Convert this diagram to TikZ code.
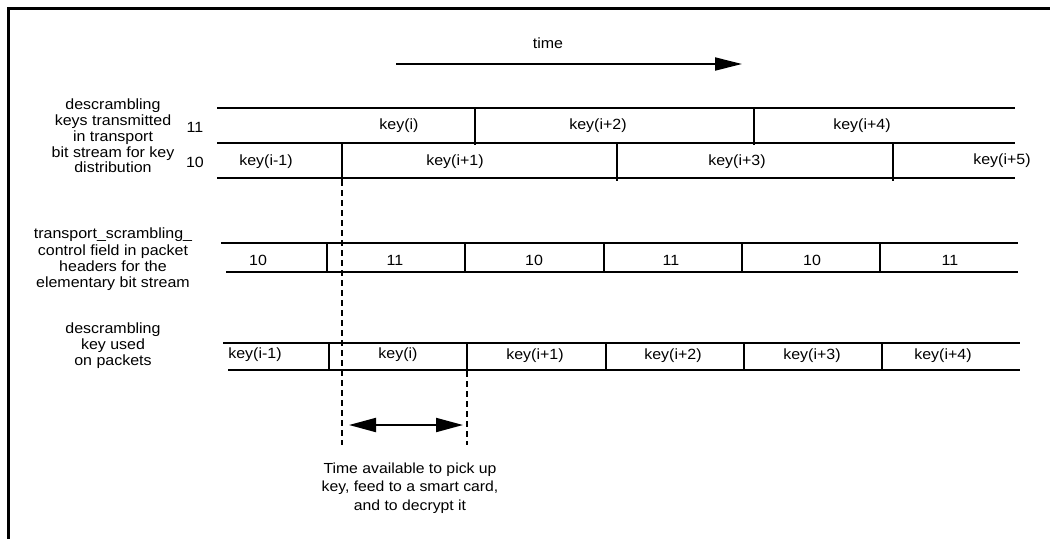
\documentclass[tikz,border=0pt]{standalone}
\usepackage{fontspec}
\setmainfont{Liberation Sans}[FakeStretch=1.08]
\usetikzlibrary{arrows.meta}
\begin{document}
\begin{tikzpicture}[x=1pt,y=-1pt,
  lbl/.style={font=\fontsize{14.8}{15.75}\selectfont, inner sep=0pt},
  side/.style={lbl, align=center},
  note/.style={font=\fontsize{14.6}{18.3}\selectfont, inner sep=0pt, align=center},
  rowline/.style={line width=2.1pt},
  frameline/.style={line width=3pt},
  guide/.style={line width=2.1pt, dash pattern=on 6pt off 4pt},
  timearrow/.style={line width=1.9pt, -{Triangle[length=27pt,width=13pt]}},
  spanarrow/.style={line width=2pt, {Triangle[length=27pt,width=14pt]}-{Triangle[length=27pt,width=14pt]}},
]
\useasboundingbox (0,0) rectangle (1050,539);
% frame
\draw[frameline] (1050,8) -- (8,8) -- (8,539);

% time arrow
\node[lbl] (time) at (548,43) {time};
\coordinate (tA) at (396,64);
\coordinate (tB) at (742,64);
\draw[timearrow] (tA) -- (tB);

% side labels
\node[side] (lab1) at (113,136) {descrambling\\keys transmitted\\in transport\\bit stream for key\\distribution};
\node[lbl] (n11) at (195,127) {11};
\node[lbl] (n10) at (195,162) {10};
\node[side, font=\fontsize{14.8}{16.3}\selectfont] (lab2) at (113,259.5) {transport\_scrambling\_\\control field in packet\\headers for the\\elementary bit stream};
\node[side, font=\fontsize{14.8}{16}\selectfont] (lab3) at (113,346) {descrambling\\key used\\on packets};

% key distribution rows
\draw[rowline] (217,108) -- (1015,108);
\draw[rowline] (217,143) -- (1015,143);
\draw[rowline] (217,178) -- (1015,178);
\draw[rowline] (475,108) -- (475,145);
\draw[rowline] (754,108) -- (754,145);
\draw[rowline] (342,143) -- (342,180);
\draw[rowline] (617,143) -- (617,181);
\draw[rowline] (893,143) -- (893,181);
\node[lbl] (a1) at (399,126) {key(i)};
\node[lbl] (a2) at (598,126) {key(i+2)};
\node[lbl] (a3) at (862,126) {key(i+4)};
\node[lbl] (b1) at (266,162) {key(i-1)};
\node[lbl] (b2) at (455,162) {key(i+1)};
\node[lbl] (b3) at (737,162) {key(i+3)};
\node[lbl] (b4) at (1002,161) {key(i+5)};

% control field row
\draw[rowline] (221,243) -- (1018,243);
\draw[rowline] (226,272) -- (1018,272);
\foreach \x in {327,465,604,742,880} \draw[rowline] (\x,243) -- (\x,272);
\node[lbl] (c1) at (258,260) {10};
\node[lbl] (c2) at (395,260) {11};
\node[lbl] (c3) at (534,260) {10};
\node[lbl] (c4) at (671,260) {11};
\node[lbl] (c5) at (812,260) {10};
\node[lbl] (c6) at (950,260) {11};

% key used row
\draw[rowline] (223,343) -- (1020,343);
\draw[rowline] (228,370) -- (1020,370);
\foreach \x in {329,467,606,744,882} \draw[rowline] (\x,343) -- (\x,370);
\node[lbl] (d1) at (255,355) {key(i-1)};
\node[lbl] (d2) at (398,355) {key(i)};
\node[lbl] (d3) at (535,356) {key(i+1)};
\node[lbl] (d4) at (673,356) {key(i+2)};
\node[lbl] (d5) at (812,356) {key(i+3)};
\node[lbl] (d6) at (943,356) {key(i+4)};

% guides
\coordinate (g1a) at (342,180);
\coordinate (g1b) at (342,445);
\coordinate (g2a) at (467,371);
\coordinate (g2b) at (467,445);
\draw[guide] (g1a) -- (g1b);
\draw[guide] (g2a) -- (g2b);
\coordinate (sA) at (349,425);
\coordinate (sB) at (463,425);
\draw[spanarrow] (sA) -- (sB);

\node[note] (avail) at (410,488) {Time available to pick up\\key, feed to a smart card,\\and to decrypt it};
\end{tikzpicture}
\end{document}
